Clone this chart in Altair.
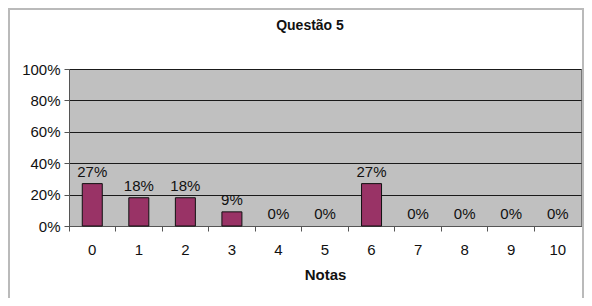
import altair as alt
import pandas as pd

notas = ["0", "1", "2", "3", "4", "5", "6", "7", "8", "9", "10"]
percentuais = [0.27, 0.18, 0.18, 0.09, 0.0, 0.0, 0.27, 0.0, 0.0, 0.0, 0.0]
y_ticks = [0, 0.2, 0.4, 0.6, 0.8, 1.0]

df = pd.DataFrame({"Notas": notas, "pct": percentuais})

FONT = "Liberation Sans"

x_enc = alt.X(
    "Notas:N",
    sort=notas,
    title="Notas",
    scale=alt.Scale(paddingInner=0, paddingOuter=0),
    axis=alt.Axis(
        bandPosition=0,
        labelAngle=0,
        labelFont=FONT,
        labelFontSize=15,
        labelColor="#111111",
        labelPadding=11,
        tickSize=5,
        tickColor="#555555",
        domainColor="#555555",
        titleFont=FONT,
        titleFontSize=15,
        titleFontWeight="bold",
        titleColor="#111111",
        titlePadding=10,
    ),
)
y_enc = alt.Y(
    "pct:Q",
    scale=alt.Scale(domain=[0, 1]),
    axis=alt.Axis(
        values=y_ticks,
        format=".0%",
        title=None,
        labelFont=FONT,
        labelFontSize=15,
        labelColor="#111111",
        labelPadding=4,
        tickSize=5,
        tickColor="#555555",
        domainColor="#555555",
        gridColor="#1a1a1a",
        gridWidth=1,
    ),
)

base = alt.Chart(df)

bars = (
    base.mark_bar(size=20, color="#993366", stroke="#111111", strokeWidth=1)
    .encode(x=x_enc, y=y_enc)
    .transform_filter("datum.pct > 0")
)

labels = base.mark_text(
    font=FONT, fontSize=15, dy=-7, baseline="alphabetic", color="#111111"
).encode(x=x_enc, y=y_enc, text=alt.Text("pct:Q", format=".0%"))

frame = base.mark_rect(
    fill=None, stroke="#bbbbbb", strokeWidth=1.5, clip=False
).encode(
    x=alt.value(-60), x2=alt.value(514), y=alt.value(-60), y2=alt.value(231)
)

chart = (
    alt.layer(frame, bars, labels)
    .properties(
        width=512,
        height=157,
        autosize=alt.AutoSizeParams(type="none"),
        padding={"left": 61, "top": 61, "right": 3, "bottom": 72},
        title=alt.Title(
            "Questão 5",
            font=FONT,
            fontSize=14,
            fontWeight="bold",
            color="#111111",
            anchor="middle",
            dx=-15,
            offset=-25,
        ),
    )
    .configure(background="white")
    .configure_view(fill="#c0c0c0", stroke="#777777", strokeWidth=1)
)

chart.save("out.html", embed_options={"renderer": "svg", "actions": False})
